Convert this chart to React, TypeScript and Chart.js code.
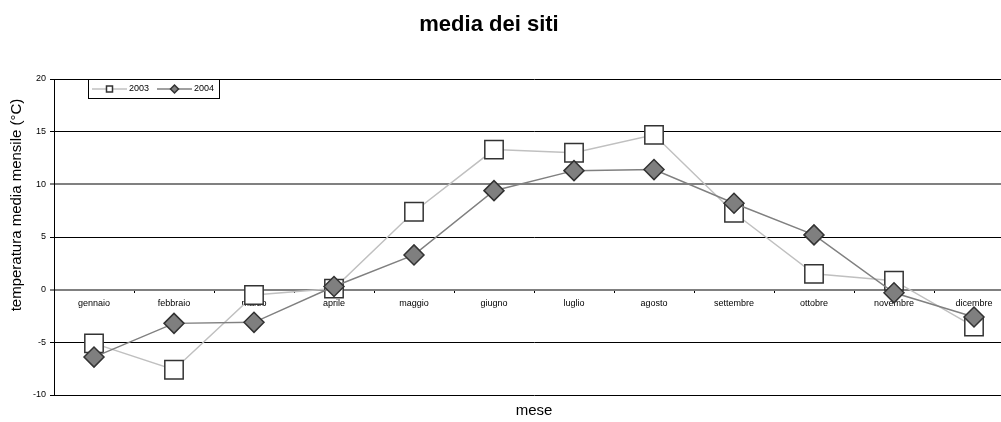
import React, { useEffect, useRef } from "react";
import { Chart, registerables } from "chart.js";

Chart.register(...registerables);

const FONT = "'Liberation Sans', Arial, sans-serif";

const chartTitle = "media dei siti";
const xTitle = "mese";
const yTitle = "temperatura media mensile (°C)";

const months = [
  "gennaio", "febbraio", "marzo", "aprile", "maggio", "giugno",
  "luglio", "agosto", "settembre", "ottobre", "novembre", "dicembre",
];
const seriesNames = ["2003", "2004"];
const values2003 = [-5.1, -7.6, -0.5, 0.1, 7.4, 13.3, 13.0, 14.7, 7.3, 1.5, 0.85, -3.5];
const values2004 = [-6.4, -3.2, -3.1, 0.3, 3.3, 9.4, 11.3, 11.4, 8.2, 5.2, -0.3, -2.6];
const yMin = -10;
const yMax = 20;
const yStep = 5;

const overlayPlugin = {
  id: "overlay",
  afterDraw(chart: any) {
    const ctx = chart.ctx as CanvasRenderingContext2D;
    ctx.save();
    // main title
    ctx.fillStyle = "#000";
    ctx.font = `bold 22px ${FONT}`;
    ctx.textAlign = "center";
    ctx.textBaseline = "alphabetic";
    ctx.fillText(chartTitle, 489, 31);

    // y-axis title
    ctx.save();
    ctx.translate(17, 205);
    ctx.rotate(-Math.PI / 2);
    ctx.font = `15px ${FONT}`;
    ctx.textBaseline = "middle";
    ctx.fillText(yTitle, 0, 0);
    ctx.restore();

    // legend
    const lx = 88, ly = 79, lw = 131, lh = 19;
    ctx.fillStyle = "#fff";
    ctx.fillRect(lx, ly, lw, lh);
    ctx.strokeStyle = "#000";
    ctx.lineWidth = 1;
    ctx.strokeRect(lx + 0.5, ly + 0.5, lw, lh);
    const cy = ly + lh / 2 + 0.5;
    const items = chart.data.datasets;
    const starts = [92, 157];
    ctx.font = `9px ${FONT}`;
    ctx.textAlign = "left";
    ctx.textBaseline = "middle";
    items.forEach((ds: any, i: number) => {
      const x0 = starts[i];
      const x1 = x0 + 35;
      ctx.strokeStyle = ds.borderColor;
      ctx.lineWidth = 1.5;
      ctx.beginPath();
      ctx.moveTo(x0, cy);
      ctx.lineTo(x1, cy);
      ctx.stroke();
      const mx = (x0 + x1) / 2;
      ctx.fillStyle = ds.pointBackgroundColor;
      ctx.strokeStyle = ds.pointBorderColor;
      ctx.lineWidth = 1.5;
      ctx.beginPath();
      if (ds.pointStyle === "rect") {
        ctx.rect(mx - 3, cy - 3, 6, 6);
      } else {
        ctx.moveTo(mx - 4, cy);
        ctx.lineTo(mx, cy - 4);
        ctx.lineTo(mx + 4, cy);
        ctx.lineTo(mx, cy + 4);
        ctx.closePath();
      }
      ctx.fill();
      ctx.stroke();
      ctx.fillStyle = "#000";
      ctx.fillText(ds.label, x1 + 2, cy);
    });
    ctx.restore();
  },
};

export default function App() {
  const canvasRef = useRef<HTMLCanvasElement | null>(null);

  useEffect(() => {
    const canvas = canvasRef.current;
    if (!canvas) return;
    const chart = new Chart(canvas, {
      type: "line",
      data: {
        labels: months,
        datasets: [
          {
            label: seriesNames[0],
            data: values2003,
            borderColor: "#c0c0c0",
            borderWidth: 1.5,
            pointStyle: "rect",
            pointRadius: 13,
            pointHoverRadius: 13,
            pointBackgroundColor: "#ffffff",
            pointBorderColor: "#333333",
            pointBorderWidth: 1.5,
            tension: 0,
            order: 2,
          },
          {
            label: seriesNames[1],
            data: values2004,
            borderColor: "#808080",
            borderWidth: 1.5,
            pointStyle: "rectRot",
            pointRadius: 10,
            pointHoverRadius: 10,
            pointBackgroundColor: "#7f7f7f",
            pointBorderColor: "#333333",
            pointBorderWidth: 1.5,
            tension: 0,
            order: 1,
          },
        ],
      },
      options: {
        animation: false,
        responsive: false,
        devicePixelRatio: 1,
        layout: { padding: { top: 79, right: 16, bottom: 0, left: 0 } },
        plugins: {
          legend: { display: false },
          title: { display: false },
          tooltip: { enabled: false },
        },
        scales: {
          x: {
            type: "category",
            offset: true,
            position: { y: 0 } as any,
            grid: {
              drawOnChartArea: false,
              drawTicks: true,
              tickLength: 3,
              offset: true,
              color: "#000",
            },
            border: { display: false },
            ticks: {
              font: { size: 9, family: FONT },
              color: "#000",
              padding: 5,
              maxRotation: 0,
              autoSkip: false,
            },
            afterFit: (s: any) => {
              s.paddingLeft = 0;
              s.paddingRight = 0;
            },
          },
          x2: {
            type: "category",
            labels: months,
            position: "bottom",
            offset: true,
            grid: { display: false },
            border: { display: false },
            ticks: { display: false },
            title: {
              display: true,
              text: xTitle,
              font: { size: 15, family: FONT },
              color: "#000",
              padding: { top: 0, bottom: 2 },
            },
            afterFit: (s: any) => {
              s.height = 27;
            },
          },
          y: {
            min: yMin,
            max: yMax,
            ticks: {
              stepSize: yStep,
              font: { size: 9, family: FONT },
              color: "#000",
              padding: 4,
            },
            grid: {
              color: (c: any) =>
                c.tick && (c.tick.value === 0 || c.tick.value === 10) ? "#808080" : "#000",
              lineWidth: (c: any) =>
                c.tick && (c.tick.value === 0 || c.tick.value === 10) ? 2 : 1,
              tickLength: 4,
            },
            border: { display: true, color: "#000", width: 1 },
            afterFit: (s: any) => {
              s.width = 54;
              s.paddingTop = 0;
              s.paddingBottom = 0;
            },
          },
        },
      },
      plugins: [overlayPlugin],
    });
    return () => chart.destroy();
  }, []);

  return (
    <div
      style={{
        position: "absolute",
        left: 0,
        top: 0,
        width: 1001,
        height: 422,
        overflow: "hidden",
        background: "#fff",
      }}
    >
      <canvas ref={canvasRef} width={1030} height={422} style={{ display: "block" }} />
    </div>
  );
}
